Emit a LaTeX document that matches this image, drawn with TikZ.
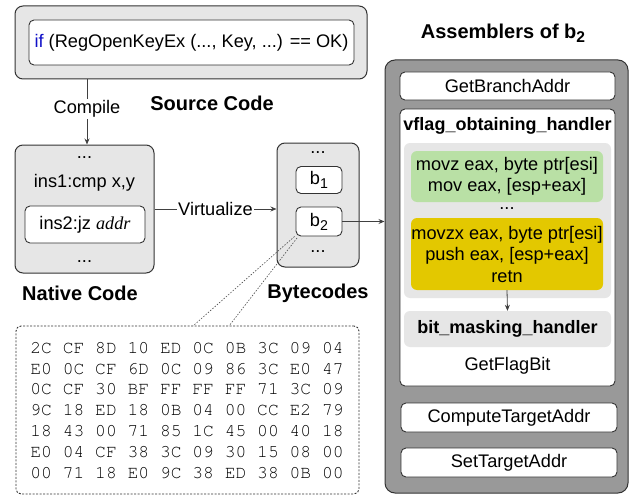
\documentclass[tikz,border=0pt]{standalone}
\usepackage[T1]{fontenc}
\usepackage{fontspec}
\setmainfont{Liberation Sans}
\newfontfamily\timesfont{Liberation Serif}
\usetikzlibrary{positioning, arrows.meta}
\definecolor{panelgray}{HTML}{E6E6E6}
\definecolor{asmgray}{HTML}{999999}
\definecolor{handlergreen}{HTML}{B9E0A5}
\definecolor{handleryellow}{HTML}{E3C800}
\definecolor{keyword}{HTML}{1010C8}
\newcommand{\hexfont}{\fontencoding{T1}\fontfamily{pcr}\fontsize{18}{20.8}\selectfont} % thin courier for the byte dump
\newcommand{\lowsub}[1]{\raisebox{-0.4ex}{\fontsize{0.78em}{1em}\selectfont #1}} % html-like subscript
\tikzset{
    >={Stealth[length=6pt,width=5pt]}, % small solid arrow heads
    every node/.style={font=\fontsize{18.2}{21.5}\selectfont, inner sep=0pt, align=center},
    panel/.style={draw=black!80, fill=panelgray, rounded corners=8pt, line width=1pt}, % grey outer boxes
    box/.style={draw=black!80, fill=white, rounded corners=5pt, line width=0.9pt}, % white inner boxes
    flat/.style={fill=panelgray, rounded corners=6pt}, % grey areas with no border
    title/.style={font=\fontsize{20}{24}\selectfont\bfseries},
    link/.style={->, draw=black!75, line width=0.9pt},
    callout/.style={draw=black!70, line width=0.6pt, dash pattern=on 1.5pt off 1.5pt},
}

\begin{document}
\begin{tikzpicture}[x=1pt, y=-1pt]
    \useasboundingbox (0,0) rectangle (632,495);

    % source code
    \node[panel, minimum width=352pt, minimum height=73pt] (src) at (191,42.5) {};
    \node[box, minimum width=325pt, minimum height=45pt] (srcin) at (191.5,42.5)
        {{\color{keyword}if} (RegOpenKeyEx (..., Key, ...) == OK)};
    \node[title] (srct) at (212,103) {Source Code};

    % native code
    \node[panel, minimum width=139pt, minimum height=128pt] (nat) at (84.5,209) {};
    \node (natd1) at (84.5,158) {...};
    \node (ins1) at (84.5,183) {ins1:cmp x,y};
    \node[box, minimum width=120pt, minimum height=37pt] (ins2) at (85,224.5)
        {ins2:jz {\timesfont\itshape addr}};
    \node (natd2) at (84.5,262) {...};
    \node[title] (natt) at (80,293) {Native Code};

    % bytecodes
    \node[panel, minimum width=82pt, minimum height=124pt] (byt) at (318,205) {};
    \node (bytd1) at (318,153) {...};
    \node[box, minimum width=46pt, minimum height=27pt] (b1) at (319,180) {b\lowsub{1}};
    \node[box, minimum width=46pt, minimum height=29pt] (b2) at (319,221.5) {b\lowsub{2}};
    \node (bytd2) at (318,252) {...};
    \node[title] (bytt) at (318,293) {Bytecodes};

    % raw bytes of b2
    \node[draw=black!80, rounded corners=5pt, line width=0.9pt, dash pattern=on 2pt off 1.5pt,
          minimum width=343pt, minimum height=168pt] (hex) at (187.5,410) {};
    \node[font=\hexfont, align=left] (hexin) at (187,410)
        {2C CF 8D 10 ED 0C 0B 3C 09 04\\
         E0 0C CF 6D 0C 09 86 3C E0 47\\
         0C CF 30 BF FF FF FF 71 3C 09\\
         9C 18 ED 18 0B 04 00 CC E2 79\\
         18 43 00 71 85 1C 45 00 40 18\\
         E0 04 CF 38 3C 09 30 15 08 00\\
         00 71 18 E0 9C 38 ED 38 0B 00};
    \coordinate (hexa) at (193,326);
    \coordinate (hexb) at (229,326);

    % assemblers of b2
    \node[title] (asmt) at (503,33) {Assemblers of b\lowsub{2}};
    \node[draw=black!80, fill=asmgray, rounded corners=10pt, line width=1pt,
          minimum width=243pt, minimum height=433pt] (asm) at (506.5,276.5) {};
    \node[box, minimum width=215pt, minimum height=28pt] (gba) at (507.5,86) {GetBranchAddr};
    \node[box, minimum width=215pt, minimum height=277pt] (vfl) at (507.5,247.5) {};
    \node[font=\fontsize{18}{22}\selectfont\bfseries] (vflt) at (507.5,126) {vflag\_obtaining\_handler};
    \node[flat, minimum width=207pt, minimum height=155pt] (grp) at (507.5,220.5) {};
    \node[fill=handlergreen, rounded corners=6pt, minimum width=192pt, minimum height=51pt] (ins3) at (507,176.5)
        {movz eax, byte ptr[esi]\\mov eax, [esp+eax]};
    \node (grpd) at (507,209) {...};
    \node[fill=handleryellow, rounded corners=6pt, minimum width=192pt, minimum height=72pt] (ins4) at (507,254)
        {movzx eax, byte ptr[esi]\\push eax, [esp+eax]\\retn};
    \node[flat, minimum width=207pt, minimum height=36pt, font=\fontsize{18}{22}\selectfont\bfseries] (bit) at (507.5,329)
        {bit\_masking\_handler};
    \node (gfb) at (507.5,366) {GetFlagBit};
    \node[box, minimum width=216pt, minimum height=29pt] (cta) at (509,417.5) {ComputeTargetAddr};
    \node[box, minimum width=216pt, minimum height=29pt] (sta) at (509,462.5) {SetTargetAddr};

    % connectors
    \draw[link] ([xshift=2.5pt]src.south -| nat.north) -- node[pos=0.45, fill=white, inner sep=1.5pt] {Compile}
        ([xshift=2.5pt]nat.north);
    \draw[link] (nat.east) -- node[fill=white, inner sep=1.5pt] {Virtualize} (nat.east -| byt.west);
    \draw[link] (b2.east) -- (b2.east -| asm.west);
    \draw[link, line width=0.8pt] (ins4.south) -- (bit.north);
    \draw[callout] ([xshift=-1pt]b2.south west) -- (hexa);
    \draw[callout] ([xshift=1.5pt, yshift=-1.5pt]b2.south west) -- (hexb);
\end{tikzpicture}
\end{document}
